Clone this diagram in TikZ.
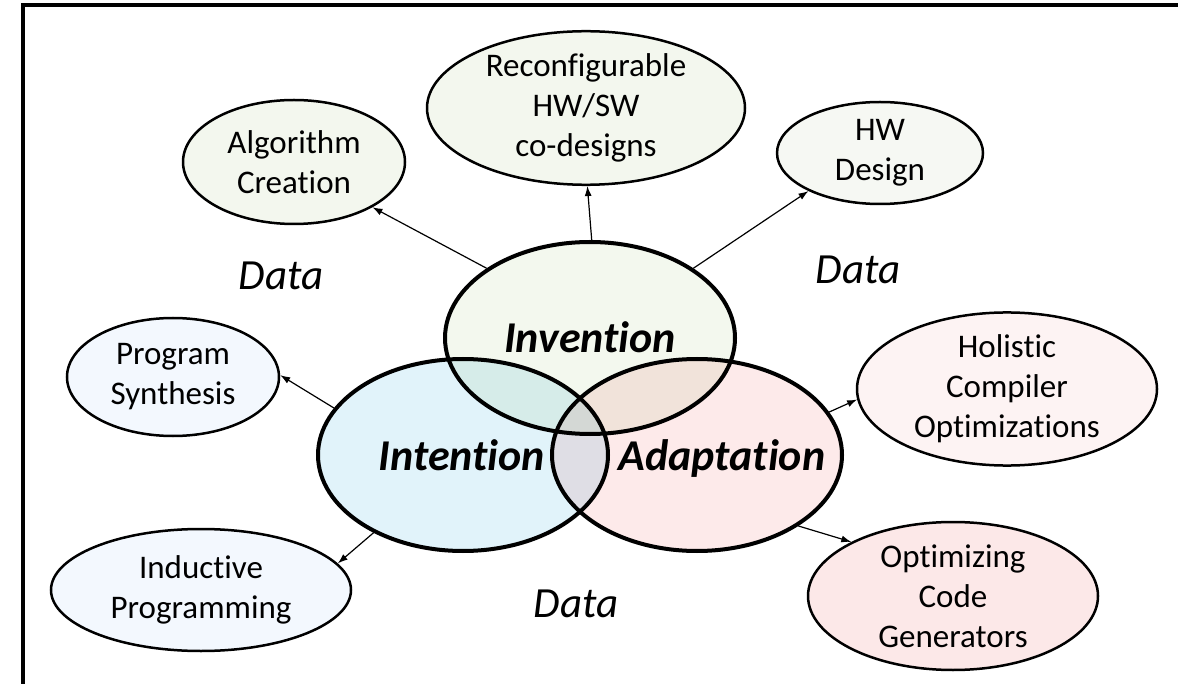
\documentclass[tikz,border=0pt]{standalone}
\usepackage{fontspec}
\setmainfont[Ligatures=NoCommon]{Carlito}
\usetikzlibrary{arrows.meta, shapes.geometric}
\definecolor{pinvent}{RGB}{243, 248, 238}
\definecolor{pintent}{RGB}{225, 243, 250}
\definecolor{padapt}{RGB}{253, 234, 234}
\definecolor{paleblue}{RGB}{243, 248, 254}
\definecolor{palegreen}{RGB}{243, 247, 238}
\definecolor{palegrey}{RGB}{246, 248, 243}
\definecolor{palepink}{RGB}{253, 243, 243}
\definecolor{rosepink}{RGB}{252, 232, 232}

\begin{document}
\begin{tikzpicture}[x=1pt, y=-1pt,
  topic/.style={ellipse, draw, line width=2.5pt, inner sep=0pt, align=center,
    font=\fontsize{33}{40}\selectfont},
  core/.style={ellipse, draw, line width=4pt, minimum width=290pt, minimum height=192pt},
  corelbl/.style={font=\fontsize{44}{50}\selectfont\bfseries\itshape},
  datalbl/.style={font=\fontsize{43}{50}\selectfont\itshape},
  link/.style={-{Latex[length=10pt, width=7pt]}, line width=1.2pt}]

  \useasboundingbox (0,0) rectangle (1178,684);
  \draw[line width=4pt] (23,684) -- (23,5) -- (1178,5);

  % outer topics
  \node[topic, fill=palegreen, minimum width=222pt, minimum height=124pt] (algo) at (294,162) {Algorithm\\Creation};
  \node[topic, fill=palegreen, minimum width=318pt, minimum height=146pt] (reconf) at (586,108) {Reconfigurable\\HW/SW\\co-designs};
  \node[topic, fill=palegrey, minimum width=206pt, minimum height=102pt] (hwdes) at (880,153) {HW\\Design};
  \node[topic, fill=paleblue, minimum width=212pt, minimum height=118pt] (synth) at (173,377) {Program\\Synthesis};
  \node[topic, fill=paleblue, minimum width=300pt, minimum height=122pt] (induct) at (201,590) {Inductive\\Programming};
  \node[topic, fill=palepink, minimum width=300pt, minimum height=150pt] (holist) at (1007,389) {Holistic\\Compiler\\Optimizations};
  \node[topic, fill=rosepink, minimum width=290pt, minimum height=148pt] (codegen) at (953,596) {Optimizing\\Code\\Generators};

  % three overlapping cores
  \begin{scope}[blend group=multiply]
    \node[core, fill=pinvent] (invent) at (590,338) {};
    \node[core, fill=pintent] (intent) at (463,455) {};
    \node[core, fill=padapt] (adapt) at (697,455) {};
  \end{scope}
  \node[corelbl] (inventlbl) at (590,337) {Invention};
  \node[corelbl] (intentlbl) at (462,455) {Intention};
  \node[corelbl] (adaptlbl) at (722,459) {Adaptation};

  \foreach \x/\y [count=\i] in {281/276, 858/270, 576/604}
    \node[datalbl] (data\i) at (\x,\y) {Data};

  % links
  \draw[link] (invent.146) -- (algo.-30);
  \draw[link] (invent.89) -- (reconf.-89);
  \draw[link] (invent.34) -- (hwdes.-152);
  \draw[link] (intent.160) -- (synth.1);
  \draw[link] (intent.221) -- (induct.11);
  \draw[link] (adapt.18) -- (holist.184);
  \draw[link] (adapt.-35) -- (codegen.152);

\end{tikzpicture}
\end{document}
